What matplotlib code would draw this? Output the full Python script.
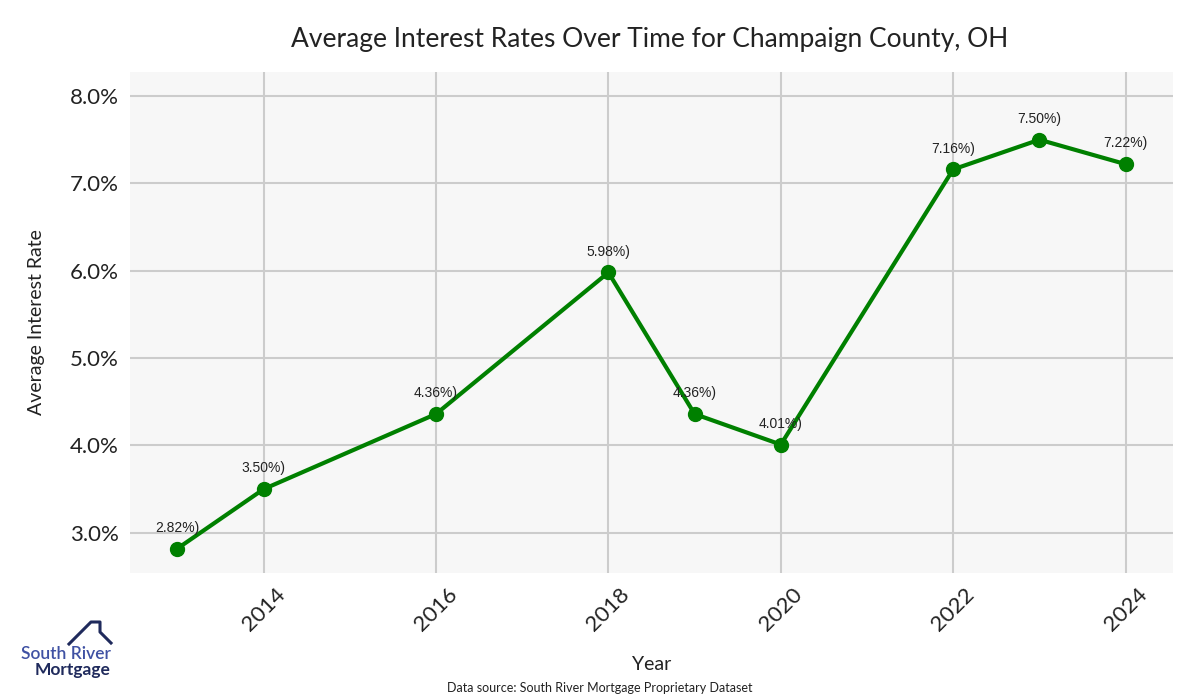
import matplotlib
matplotlib.use("Agg")
import matplotlib.pyplot as plt
from matplotlib.lines import Line2D
from matplotlib.ticker import FuncFormatter

years = [2013, 2014, 2016, 2018, 2019, 2020, 2022, 2023, 2024]
rates = [2.82, 3.50, 4.36, 5.98, 4.36, 4.01, 7.16, 7.50, 7.22]
xticks = [2014, 2016, 2018, 2020, 2022, 2024]
yticks = [3.0, 4.0, 5.0, 6.0, 7.0, 8.0]

FONT = ["Lato", "DejaVu Sans"]
plt.rcParams['font.family'] = FONT

fig = plt.figure(figsize=(12, 7), dpi=100)
ax = fig.add_axes([130/1200, 1-573/700, (1173-130)/1200, (573-72)/700])
ax.set_facecolor("#f7f7f7")
for s in ax.spines.values():
    s.set_visible(False)
ax.grid(True, color="#cccccc", linewidth=1.5)
ax.set_axisbelow(True)

ax.plot(years, rates, color="#008000", linewidth=3, marker="o", markersize=10, zorder=3)
for x, y in zip(years, rates):
    ax.annotate(f"{y:.2f}%)", (x, y), xytext=(0, 10), textcoords="offset points",
                ha="center", va="bottom", fontsize=10, color="#222222",
                family=["Liberation Sans", "DejaVu Sans"])

ax.set_xlim(2012.45, 2024.55)
ax.set_ylim(2.54, 8.275)
ax.set_xticks(xticks)
ax.set_yticks(yticks)
ax.yaxis.set_major_formatter(FuncFormatter(lambda v, p: f"{v:.1f}%"))
ax.tick_params(axis="both", length=0, labelsize=16, colors="#222222", pad=8)
for lab in ax.get_xticklabels():
    lab.set_rotation(45)
ax.set_xlabel("Year", fontsize=14, color="#222222", labelpad=15)
ax.set_ylabel("Average Interest Rate", fontsize=14, color="#222222", labelpad=18)

fig.text(650/1200, 1-40/700, "Average Interest Rates Over Time for Champaign County, OH",
         ha="center", va="center", fontsize=19, color="#222222")
fig.text(600/1200, 1-688/700, "Data source: South River Mortgage Proprietary Dataset",
         ha="center", va="center", fontsize=9, color="#222222")

# logo
navy = "#1f2a5c"
pts = [(69, 644), (91, 622), (100, 622), (100, 632), (111, 643)]
fig.add_artist(Line2D([p[0]/1200 for p in pts], [1-p[1]/700 for p in pts],
                      color=navy, linewidth=2.2, transform=fig.transFigure))
fig.text(111/1200, 1-654/700, "South River", ha="right", va="center",
         fontsize=12.5, color="#3f51a3", fontweight="semibold")
fig.text(111/1200, 1-670/700, "Mortgage", ha="right", va="center",
         fontsize=12.5, color=navy, fontweight="bold")

fig.savefig("out.png", dpi=100, facecolor="white")
